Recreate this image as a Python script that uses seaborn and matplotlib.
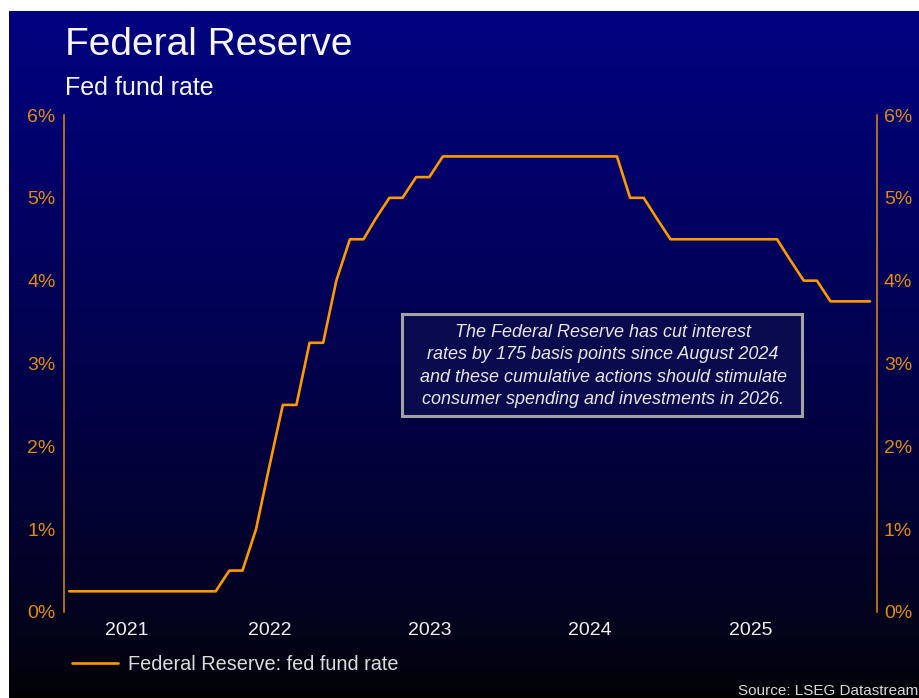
import numpy as np
import pandas as pd
import matplotlib
matplotlib.use("Agg")
import matplotlib.pyplot as plt
import matplotlib.dates as mdates
from matplotlib.patches import Rectangle
from matplotlib.lines import Line2D
import seaborn as sns

# ---------------- data ----------------
months = pd.date_range("2021-04-01", "2026-04-01", freq="MS")
rates = [
    # 2021 Apr-Dec
    0.25, 0.25, 0.25, 0.25, 0.25, 0.25, 0.25, 0.25, 0.25,
    # 2022
    0.25, 0.25, 0.25, 0.50, 0.50, 1.00, 1.75, 2.50, 2.50, 3.25, 3.25, 4.00,
    # 2023
    4.50, 4.50, 4.75, 5.00, 5.00, 5.25, 5.25, 5.50, 5.50, 5.50, 5.50, 5.50,
    # 2024
    5.50, 5.50, 5.50, 5.50, 5.50, 5.50, 5.50, 5.50, 5.50, 5.00, 5.00, 4.75,
    # 2025
    4.50, 4.50, 4.50, 4.50, 4.50, 4.50, 4.50, 4.50, 4.50, 4.25, 4.00, 4.00,
    # 2026
    3.75, 3.75, 3.75, 3.75,
]
series_name = "Federal Reserve: fed fund rate"
year_labels = ["2021", "2022", "2023", "2024", "2025"]
y_ticks = [0, 1, 2, 3, 4, 5, 6]
y_tick_labels = ["0%", "1%", "2%", "3%", "4%", "5%", "6%"]
title = "Federal Reserve"
subtitle = "Fed fund rate"
note = ("The Federal Reserve has cut interest\n"
        "rates by 175 basis points since August 2024\n"
        "and these cumulative actions should stimulate\n"
        "consumer spending and investments in 2026.")
source = "Source: LSEG Datastream"

df = pd.DataFrame({"date": months, "rate": rates})

# ---------------- style ----------------
sns.set_style("white")
plt.rcParams["font.family"] = ["Liberation Sans", "DejaVu Sans"]

LINE = "#FF9900"
AXC = "#E38B0C"
W, H = 919, 698
fig = plt.figure(figsize=(W / 100, H / 100), dpi=100, facecolor="white")

# gradient background
bg = fig.add_axes([9 / W, 0, (W - 9) / W, (H - 11) / H], zorder=-10)
t = np.linspace(0, 1, 400)[:, None]
b = 0.50 * (1 - t) ** 0.75
img = np.dstack([0.01 * (1 - b) + 0 * t, 0.01 * (1 - b) + 0 * t, b + 0.015 * t])
bg.imshow(img, aspect="auto", extent=[0, 1, 0, 1], origin="upper")
bg.set_axis_off()

ax = fig.add_axes([64 / W, 1 - 612 / H, (877 - 64) / W, (612 - 115) / H])
ax.patch.set_alpha(0)
sns.lineplot(data=df, x="date", y="rate", ax=ax, color=LINE, linewidth=1.9,
             legend=False)

xmin = pd.Timestamp("2021-03-20")
xmax = pd.Timestamp("2026-04-17")
ax.set_xlim(xmin, xmax)
ax.set_ylim(0, 6)
ax.set_xlabel("")
ax.set_ylabel("")

# year labels centered on visible part of each year
centers = []
for yl in year_labels:
    y0 = max(pd.Timestamp(f"{yl}-01-01"), xmin)
    y1 = min(pd.Timestamp(f"{int(yl)+1}-01-01"), xmax)
    centers.append(mdates.date2num(y0) + (mdates.date2num(y1) - mdates.date2num(y0)) / 2)
ax.set_xticks(centers)
ax.set_xticklabels(year_labels)
ax.tick_params(axis="x", length=0, pad=7, labelsize=14, colors="#F2F2F2")

ax.set_yticks(y_ticks)
ax.set_yticklabels(y_tick_labels)
ax.tick_params(axis="y", length=0, pad=6, labelsize=14, colors=AXC)

for s in ["top", "bottom", "right"]:
    ax.spines[s].set_visible(False)
ax.spines["left"].set_color(AXC)
ax.spines["left"].set_linewidth(1.1)

ax2 = ax.twinx()
ax2.patch.set_alpha(0)
ax2.set_ylim(0, 6)
ax2.set_yticks(y_ticks)
ax2.set_yticklabels(y_tick_labels)
ax2.tick_params(axis="y", length=0, pad=5, labelsize=14, colors=AXC)
for s in ["top", "bottom", "left"]:
    ax2.spines[s].set_visible(False)
ax2.spines["right"].set_color(AXC)
ax2.spines["right"].set_linewidth(1.1)
ax2.set_ylabel("")

# titles
fig.text(65 / W, 1 - 55 / H, title, fontsize=28, color="#F5F5F5",
         ha="left", va="baseline")
fig.text(65 / W, 1 - 95 / H, subtitle, fontsize=18, color="#F5F5F5",
         ha="left", va="baseline")

# annotation box
rect = Rectangle((402 / W, 1 - 416 / H), 400 / W, 102 / H,
                 transform=fig.transFigure, facecolor="#0A0A4E",
                 edgecolor="#A3A3A3", linewidth=2.2, zorder=5)
fig.patches.append(rect)
fig.text(603 / W, 1 - 366 / H, note, fontsize=13, style="italic",
         color="#E8E8E8", ha="center", va="center", linespacing=1.42,
         zorder=6)

# legend
handle = Line2D([0], [0], color=LINE, linewidth=1.9)
fig.legend([handle], [series_name], loc="center left",
           bbox_to_anchor=(72 / W, 1 - 664 / H), frameon=False,
           fontsize=14.3, labelcolor="#DCDCDC", handlelength=2.3,
           handletextpad=0.5, borderpad=0, borderaxespad=0)

# source
fig.text(738 / W, 1 - 691 / H, source, fontsize=11, color="#D8D8D8",
         ha="left", va="center")

fig.savefig("out.png", dpi=100, facecolor="white")
